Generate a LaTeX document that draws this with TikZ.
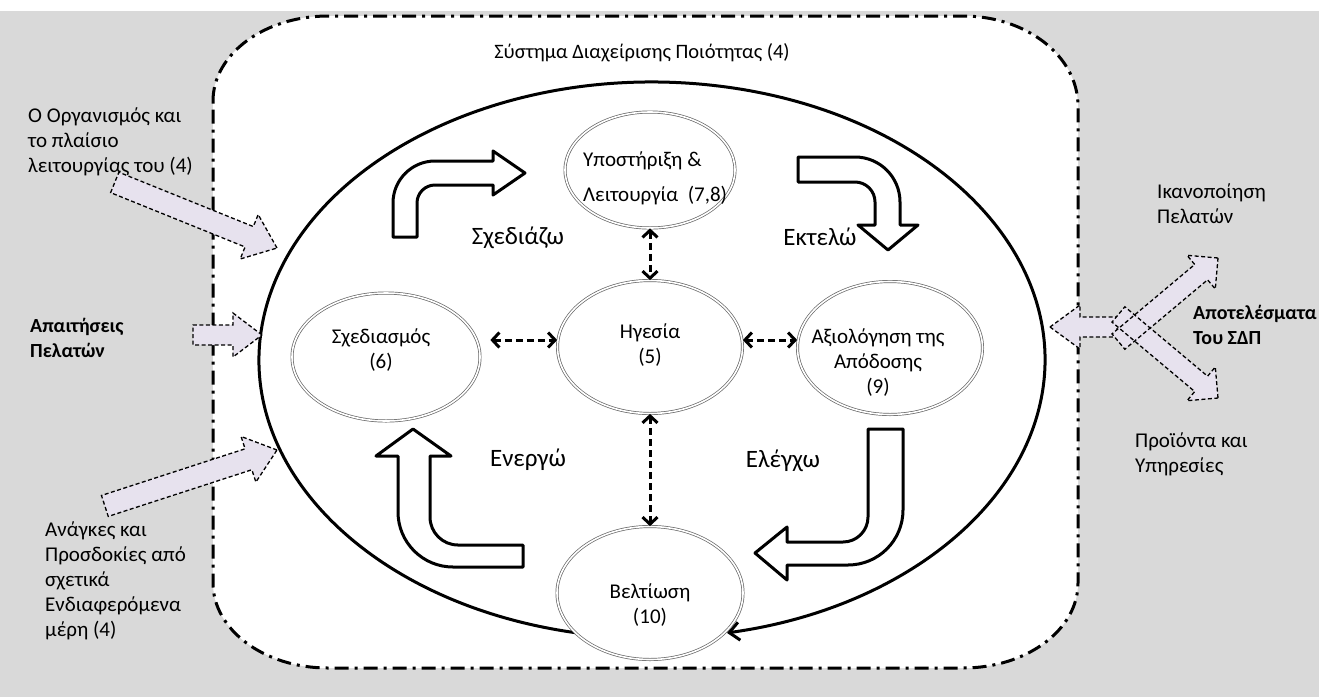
\documentclass[tikz,border=0pt]{standalone}
\usepackage{fontspec}
\setmainfont{Carlito}
\usetikzlibrary{shapes.geometric,arrows.meta}

\definecolor{bggray}{RGB}{217,217,217}
\definecolor{arrowfill}{RGB}{231,226,238}

\tikzset{
  bubble/.style={ellipse, draw=black!60, double=white, double distance=1.6pt, line width=0.7pt, fill=white, inner sep=0pt},
  txt/.style={align=center, inner sep=0pt},
  strong/.style={font=\fontsize{20}{25}\selectfont\bfseries},
  verb/.style={inner sep=0pt, font=\fontsize{25}{30}\selectfont},
  link/.style={line width=3pt, dash pattern=on 7pt off 4pt, {Straight Barb[length=7pt,width=15pt]}-{Straight Barb[length=7pt,width=15pt]}},
  blockarrow/.style={draw, line width=3pt, fill=white, line join=round},
  sideline/.style={draw, line width=1.3pt, dash pattern=on 4pt off 2.5pt},
  sidearrow/.style={sideline, fill=arrowfill},
}

\begin{document}
\begin{tikzpicture}[x=1pt, y=-1pt, font=\fontsize{21}{25}\selectfont]
\useasboundingbox (0,0) rectangle (1319,697);
\fill[bggray] (0,11) rectangle (1319,697);

% frame of the quality system
\draw[line width=3pt, dash pattern=on 14pt off 6pt on 3pt off 6pt, fill=white]
  (213,101) arc[start angle=180, end angle=270, x radius=115, y radius=85]
  -- (963,16) arc[start angle=270, end angle=360, x radius=115, y radius=90]
  -- (1078,583) arc[start angle=0, end angle=90, x radius=115, y radius=85]
  -- (328,668) arc[start angle=90, end angle=180, x radius=115, y radius=85] -- cycle;
\node[font=\fontsize{20.5}{25}\selectfont] (title) at (642,53) {Σύστημα Διαχείρισης Ποιότητας (4)};

% big cycle
\draw[line width=3pt, -{Straight Barb[length=10pt,width=18pt]}]
  (652,360) ++(100:393 and 278) arc[start angle=100, end angle=439, x radius=393, y radius=278];

% ellipses
\node[bubble, minimum width=170pt, minimum height=116pt] (support) at (650,170) {};
\node[bubble, minimum width=185pt, minimum height=133pt] (leader) at (650,347) {};
\node[bubble, minimum width=188pt, minimum height=128pt] (plan) at (386,357) {};
\node[bubble, minimum width=185pt, minimum height=133pt] (eval) at (890,348) {};
\node[bubble, minimum width=186pt, minimum height=133pt] (improve) at (650,593) {};

\node[txt, align=left, anchor=west] (supporttxt) at (583,178) {Υποστήριξη \&\\[10pt]Λειτουργία~ (7,8)};
\node[txt] (leadertxt) at (650,345) {Ηγεσία\\(5)};
\node[txt] (plantxt) at (381,350) {Σχεδιασμός\\(6)};
\node[txt] (evaltxt) at (878,363) {Αξιολόγηση της\\Απόδοσης\\(9)};
\node[txt] (improvetxt) at (650,605) {Βελτίωση\\(10)};

% links to the leadership
\draw[link] (support) -- (leader);
\draw[link] (leader) -- (improve);
\draw[link, shorten <=10pt] (plan.east |- 0,340) -- (leader.west |- 0,340);
\draw[link] (leader.east |- 0,340) -- (eval.west |- 0,340);

% block arrows of the cycle
\draw[blockarrow] (393,237) [rounded corners=42pt] -- (393,161) [sharp corners] -- (493,161) -- (493,151) -- (525,173) -- (493,195) -- (493,185) [rounded corners=18pt] -- (417,185) [sharp corners] -- (417,237) -- cycle;
\draw[blockarrow] (798,157) [rounded corners=45pt] -- (900,157) [sharp corners] -- (900,225) -- (918,225) -- (888,250) -- (858,225) -- (875,225) [rounded corners=20pt] -- (875,182) [sharp corners] -- (798,182) -- cycle;
\draw[blockarrow] (868,429) -- (903,429) [rounded corners=55pt] -- (903,565) [sharp corners] -- (787,565) -- (787,580) -- (755,553) -- (787,527) -- (787,542) [rounded corners=25pt] -- (868,542) [sharp corners] -- cycle;
\draw[blockarrow] (523,545) [rounded corners=28pt] -- (430,545) [sharp corners] -- (430,456) -- (451,456) -- (413,429) -- (376,456) -- (398,456) [rounded corners=55pt] -- (398,567) [sharp corners] -- (523,567) -- cycle;

\node[verb] (vplan) at (518,238) {Σχεδιάζω};
\node[verb] (vdo) at (820,237) {Εκτελώ};
\node[verb] (vact) at (528,460) {Ενεργώ};
\node[verb] (vcheck) at (783,461) {Ελέγχω};

% inputs
\node[txt, align=left, anchor=west] (org) at (28,142) {Ο Οργανισμός και\\το πλαίσιο\\λειτουργίας του (4)};
\node[txt, align=left, anchor=west, strong] (req) at (30,338) {Απαιτήσεις\\Πελατών};
\node[txt, align=left, anchor=west] (needs) at (45,581) {Ανάγκες και\\Προσδοκίες από\\σχετικά\\Ενδιαφερόμενα\\μέρη (4)};

\begin{scope}[shift={(277,248)}, rotate=-22]
\draw[sidearrow] (0,0) -- (-30,-24) -- (-30,-11) -- (-175,-11) -- (-175,11) -- (-30,11) -- (-30,24) -- cycle;
\end{scope}
\begin{scope}[shift={(262,335)}]
\draw[sidearrow] (0,0) -- (-29,-22) -- (-29,-10) -- (-69,-10) -- (-69,10) -- (-29,10) -- (-29,22) -- cycle;
\end{scope}
\begin{scope}[shift={(277,450)}, rotate=18]
\draw[sidearrow] (0,0) -- (-30,-24) -- (-30,-11) -- (-181,-11) -- (-181,11) -- (-30,11) -- (-30,24) -- cycle;
\end{scope}

% outputs
\node[txt, align=left, anchor=west] (sat) at (1157,204) {Ικανοποίηση\\Πελατών};
\node[txt, align=left, anchor=west, strong] (res) at (1193,325) {Αποτελέσματα\\Του ΣΔΠ};
\node[txt, align=left, anchor=west] (prod) at (1135,454) {Προϊόντα και\\Υπηρεσίες};

\begin{scope}[shift={(1050,327)}, rotate=180]
\draw[sidearrow] (0,0) -- (-30,-22) -- (-30,-10) -- (-67,-10) -- (-67,10) -- (-30,10) -- (-30,22) -- cycle;
\end{scope}
\begin{scope}[shift={(1218,258)}, rotate=40]
\fill[arrowfill] (0,0) -- (-22,-22) -- (-22,-10) -- (-130,-10) -- (-130,10) -- (-22,10) -- (-22,22) -- cycle;
\end{scope}
\begin{scope}[shift={(1218,398)}, rotate=-40]
\fill[arrowfill] (0,0) -- (-22,-22) -- (-22,-10) -- (-130,-10) -- (-130,10) -- (-22,10) -- (-22,22) -- cycle;
\end{scope}
\begin{scope}[shift={(1218,258)}, rotate=40]
\draw[sideline] (0,0) -- (-22,-22) -- (-22,-10) -- (-130,-10) -- (-130,10) -- (-22,10) -- (-22,22) -- cycle;
\end{scope}
\begin{scope}[shift={(1218,398)}, rotate=-40]
\draw[sideline] (0,0) -- (-22,-22) -- (-22,-10) -- (-130,-10) -- (-130,10) -- (-22,10) -- (-22,22) -- cycle;
\end{scope}
\end{tikzpicture}
\end{document}
